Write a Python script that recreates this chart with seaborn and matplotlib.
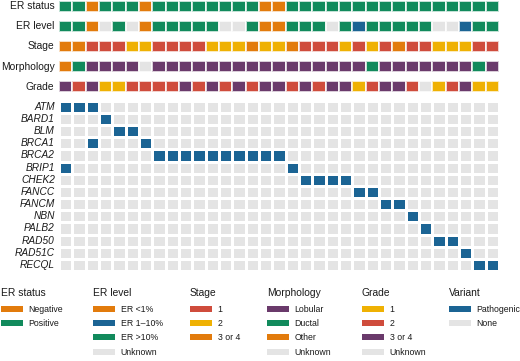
import numpy as np
import matplotlib
matplotlib.use("Agg")
import matplotlib.pyplot as plt
import matplotlib.patches as mpatches
from matplotlib.colors import ListedColormap
import seaborn as sns

sns.set_theme(style="white")
plt.rcParams['font.family'] = ['Liberation Sans', 'DejaVu Sans']

# colours
GREEN = '#118a5c'
ORANGE = '#e27b0c'
RED = '#cf4c3c'
YELLOW = '#efb103'
PURPLE = '#6a3a6b'
BLUE = '#1b6494'
GRAY = '#e4e4e4'

# one character per patient (33 patients)
er_status = "PPNPPPNPPPPPPPPNNPPPPPPPPPPPPPPPP"
er_level = "HHLUHULHHHHHUUHLLHHHUHMHHHHHUUMHH"
stage = "331112211112223223111212131122211"
morphology = "ODLLLLULLLLLLLLLLLLLLLLDLLLLLLLDL"
grade = "323112222323232332323312332U12311"

er_status_cats = ['Negative', 'Positive']
er_level_cats = ['ER <1%', 'ER 1\u201310%', 'ER >10%', 'Unknown']
stage_cats = ['1', '2', '3 or 4']
morphology_cats = ['Lobular', 'Ductal', 'Other', 'Unknown']
grade_cats = ['1', '2', '3 or 4', 'Unknown']
variant_cats = ['Pathogenic', 'None']

genes = ['ATM', 'BARD1', 'BLM', 'BRCA1', 'BRCA2', 'BRIP1', 'CHEK2', 'FANCC',
         'FANCM', 'NBN', 'PALB2', 'RAD50', 'RAD51C', 'RECQL']
# patients (columns) carrying a pathogenic variant in each gene
carriers = [[0, 1, 2], [3], [4, 5], [2, 6], list(range(7, 17)), [0, 17],
            [18, 19, 20, 21], [22, 23], [24, 25], [26], [27], [28, 29], [30], [31, 32]]

rows = [
    ('ER status', er_status, 'NP', er_status_cats, [ORANGE, GREEN]),
    ('ER level', er_level, 'LMHU', er_level_cats, [ORANGE, BLUE, GREEN, GRAY]),
    ('Stage', stage, '123', stage_cats, [RED, YELLOW, ORANGE]),
    ('Morphology', morphology, 'LDOU', morphology_cats, [PURPLE, GREEN, ORANGE, GRAY]),
    ('Grade', grade, '123U', grade_cats, [YELLOW, RED, PURPLE, GRAY]),
]

W, H = 520, 361
fig = plt.figure(figsize=(W / 100, H / 100), dpi=100)

x0, x1 = 59, 499
txt = '#1a1a1a'

def px_axes(top, height):
    return fig.add_axes([x0 / W, 1 - (top + height) / H, (x1 - x0) / W, height / H])

# annotation tracks
for i, (name, codes, order, cats, cols) in enumerate(rows):
    ax = px_axes(0.7 + 20.1 * i, 11)
    vals = np.array([[order.index(c) for c in codes]])
    sns.heatmap(vals, ax=ax, cmap=ListedColormap(cols), vmin=-0.5, vmax=len(cols) - 0.5,
                cbar=False, linewidths=1.3, linecolor=(1, 1, 1, 0.75),
                xticklabels=False, yticklabels=[name])
    ax.tick_params(left=False, bottom=False, length=0, pad=3.3)
    ax.set_yticklabels([name], rotation=0, fontsize=7.4, color=txt)

# variant matrix
mat = np.zeros((len(genes), len(er_status)))
for g, cs in enumerate(carriers):
    mat[g, cs] = 1
ax = px_axes(100.7, 170.3)
sns.heatmap(mat, ax=ax, cmap=ListedColormap([GRAY, BLUE]), vmin=0, vmax=1,
            cbar=False, linewidths=1.0, linecolor='white',
            xticklabels=False, yticklabels=genes)
ax.tick_params(left=False, bottom=False, length=0, pad=3)
ax.set_yticklabels(genes, rotation=0, fontsize=7.3, style='italic', color=txt)

# legends
legends = [
    ('ER status', er_status_cats, [ORANGE, GREEN], 1),
    ('ER level', er_level_cats, [ORANGE, BLUE, GREEN, GRAY], 93),
    ('Stage', stage_cats, [RED, YELLOW, ORANGE], 190),
    ('Morphology', morphology_cats, [PURPLE, GREEN, ORANGE, GRAY], 267),
    ('Grade', grade_cats, [YELLOW, RED, PURPLE, GRAY], 362),
    ('Variant', variant_cats, [BLUE, GRAY], 449),
]
for title, cats, cols, lx in legends:
    fig.text(lx / W, 1 - 296 / H, title, fontsize=7.4, color=txt, ha='left', va='baseline')
    handles = [mpatches.Patch(facecolor=c, edgecolor='none', label=l) for l, c in zip(cats, cols)]
    leg = fig.legend(handles=handles, loc='upper left',
                     bbox_to_anchor=(lx / W, 1 - 305 / H), frameon=False,
                     borderpad=0, borderaxespad=0, handlelength=2.5, handleheight=0.69,
                     handletextpad=0.65, labelspacing=0.6, fontsize=6.3)
    for t in leg.get_texts():
        t.set_color(txt)

fig.savefig('out.png', dpi=100)
